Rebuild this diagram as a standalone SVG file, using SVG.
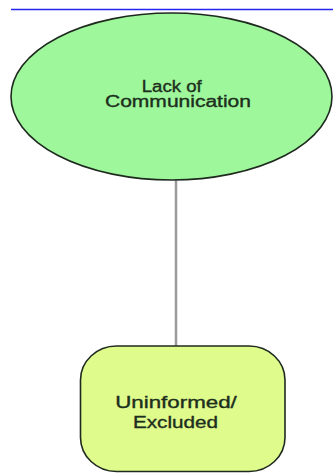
<svg xmlns="http://www.w3.org/2000/svg" width="333" height="474" viewBox="0 0 333 474">
<style>
.lbl{font-family:"Liberation Sans",Arial,sans-serif;font-size:16px;fill:#1c2e1c;stroke:#1c2e1c;stroke-width:0.35;text-anchor:middle}
.node{stroke:#1f2a1f;stroke-width:1.6}
</style>
<rect width="333" height="474" fill="#ffffff"/>
<line x1="11" y1="9.5" x2="333" y2="9.5" stroke="#2424f0" stroke-width="1.3"/>
<g id="connectors">
<line x1="176" y1="180" x2="176" y2="346" stroke="#9a9a9a" stroke-width="2.5"/>
</g>
<g id="node-lack">
<ellipse class="node" cx="171.5" cy="96.5" rx="160.5" ry="83.5" fill="#9ef79b"/>
<text class="lbl" x="171.7" y="91.5" textLength="60" lengthAdjust="spacingAndGlyphs">Lack of</text>
<text class="lbl" x="178" y="107" textLength="146" lengthAdjust="spacingAndGlyphs">Communication</text>
</g>
<g id="node-uninformed">
<rect class="node" x="80.5" y="346" width="204.5" height="125.5" rx="36" ry="34" fill="#dffb8c"/>
<text class="lbl" x="176" y="408" textLength="121.5" lengthAdjust="spacingAndGlyphs">Uninformed/</text>
<text class="lbl" x="175.5" y="428" textLength="85" lengthAdjust="spacingAndGlyphs">Excluded</text>
</g>
</svg>
